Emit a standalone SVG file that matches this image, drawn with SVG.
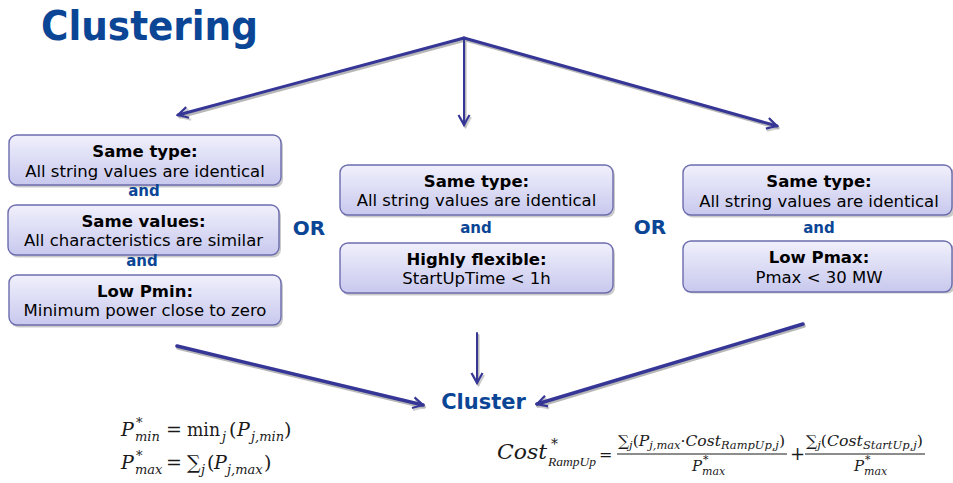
<svg xmlns="http://www.w3.org/2000/svg" width="953" height="483" viewBox="0 0 953 483">
<defs>
<linearGradient id="boxg" x1="0" y1="0" x2="0" y2="1">
<stop offset="0" stop-color="#f0f0fc"/>
<stop offset="1" stop-color="#c8c8ee"/>
</linearGradient>
<marker id="ah" markerWidth="14" markerHeight="14" refX="12" refY="7" orient="auto" markerUnits="userSpaceOnUse" overflow="visible">
<path d="M2,1.5 L12,7 L2,12.5" fill="none" stroke="#363696" stroke-width="2.2" stroke-linejoin="miter"/>
</marker>
<marker id="ahs" markerWidth="14" markerHeight="14" refX="12" refY="7" orient="auto" markerUnits="userSpaceOnUse" overflow="visible">
<path d="M2,1.5 L12,7 L2,12.5" fill="none" stroke="#9a9a9a" stroke-width="2.2" opacity="0.7"/>
</marker>
</defs>
<style>
.box{fill:url(#boxg);stroke:#6c6cae;stroke-width:1.4}
.shd{fill:#8a8a8a;opacity:0.45}
.t{font-family:"DejaVu Sans","Liberation Sans",sans-serif;font-size:16.5px;fill:#000;text-anchor:middle}
.b{font-weight:bold}
.blue{font-family:"DejaVu Sans","Liberation Sans",sans-serif;font-weight:bold;fill:#0b4595;text-anchor:middle}
.ln{stroke:#363696;fill:none;stroke-linecap:round}
.ls{stroke:#9a9a9a;fill:none;opacity:0.7;stroke-linecap:round}
.m{font-family:"DejaVu Serif","Liberation Serif",serif;font-style:italic;fill:#1a1a1a}
.u{font-family:"DejaVu Serif","Liberation Serif",serif;font-style:normal;fill:#1a1a1a}
</style>
<rect width="953" height="483" fill="#ffffff"/>
<text id="title" x="41" y="40" font-family="DejaVu Sans, Liberation Sans, sans-serif" font-weight="bold" font-size="40" fill="#0b4595" textLength="217" lengthAdjust="spacingAndGlyphs">Clustering</text>

<g id="connectors">
<g class="ls">
<line x1="465.5" y1="40" x2="180" y2="117" stroke-width="3" marker-end="url(#ahs)"/>
<line x1="465.5" y1="40" x2="465.5" y2="127" stroke-width="2" marker-end="url(#ahs)"/>
<line x1="465.5" y1="40" x2="778" y2="128" stroke-width="3" marker-end="url(#ahs)"/>
<line x1="178" y1="348" x2="424" y2="407" stroke-width="3.5" marker-end="url(#ahs)"/>
<line x1="478.5" y1="335" x2="478.5" y2="385" stroke-width="2" marker-end="url(#ahs)"/>
<line x1="804" y1="326" x2="538" y2="406" stroke-width="3.5" marker-end="url(#ahs)"/>
</g>
<g class="ln">
<line x1="464" y1="38" x2="178" y2="115" stroke-width="3" marker-end="url(#ah)"/>
<line x1="464" y1="38" x2="464" y2="125" stroke-width="2" marker-end="url(#ah)"/>
<line x1="464" y1="38" x2="777" y2="126" stroke-width="3" marker-end="url(#ah)"/>
<line x1="177" y1="346" x2="423" y2="405" stroke-width="3.5" marker-end="url(#ah)"/>
<line x1="477" y1="333" x2="477" y2="383" stroke-width="2" marker-end="url(#ah)"/>
<line x1="803" y1="324" x2="537" y2="404" stroke-width="3.5" marker-end="url(#ah)"/>
</g>
</g>

<g id="left-same-type">
<rect class="shd" x="11" y="137.5" width="272" height="50" rx="8"/>
<rect class="box" x="9" y="135" width="272" height="50" rx="8"/>
<text class="t b" x="145" y="157">Same type:</text>
<text class="t" x="145" y="177">All string values are identical</text>
</g>
<text class="blue" x="144" y="196" font-size="15">and</text>
<g id="left-same-values">
<rect class="shd" x="10" y="207.5" width="271" height="50" rx="8"/>
<rect class="box" x="8" y="205" width="271" height="50" rx="8"/>
<text class="t b" x="143.5" y="227">Same values:</text>
<text class="t" x="143.5" y="246">All characteristics are similar</text>
</g>
<text class="blue" x="142" y="266" font-size="15">and</text>
<g id="left-low-pmin">
<rect class="shd" x="11" y="277.5" width="272" height="50" rx="8"/>
<rect class="box" x="9" y="275" width="272" height="50" rx="8"/>
<text class="t b" x="145" y="297">Low Pmin:</text>
<text class="t" x="145" y="316">Minimum power close to zero</text>
</g>

<text class="blue" x="309" y="235" font-size="20">OR</text>

<g id="mid-same-type">
<rect class="shd" x="342" y="167.5" width="273" height="50" rx="8"/>
<rect class="box" x="340" y="165" width="273" height="50" rx="8"/>
<text class="t b" x="476.5" y="187">Same type:</text>
<text class="t" x="476.5" y="206">All string values are identical</text>
</g>
<text class="blue" x="476" y="233" font-size="15">and</text>
<g id="mid-highly-flexible">
<rect class="shd" x="342" y="245.5" width="273" height="50" rx="8"/>
<rect class="box" x="340" y="243" width="273" height="50" rx="8"/>
<text class="t b" x="476.5" y="265">Highly flexible:</text>
<text class="t" x="476.5" y="284">StartUpTime &lt; 1h</text>
</g>

<text class="blue" x="650" y="234" font-size="20">OR</text>

<g id="right-same-type">
<rect class="shd" x="685" y="167.5" width="270" height="50" rx="8"/>
<rect class="box" x="683" y="165" width="269" height="50" rx="8"/>
<text class="t b" x="819" y="187">Same type:</text>
<text class="t" x="819" y="207">All string values are identical</text>
</g>
<text class="blue" x="819" y="233" font-size="15">and</text>
<g id="right-low-pmax">
<rect class="shd" x="685" y="243.5" width="270" height="50" rx="8"/>
<rect class="box" x="683" y="241" width="269" height="51" rx="8"/>
<text class="t b" x="819" y="263">Low Pmax:</text>
<text class="t" x="819" y="283">Pmax &lt; 30 MW</text>
</g>

<g id="cluster">
<text class="blue" x="483.5" y="409" font-size="21">Cluster</text>
</g>

<g id="formula-left">
<text class="m" x="121" y="436" font-size="19">P</text>
<text class="u" x="136" y="427" font-size="13">*</text>
<text class="m" x="135" y="441" font-size="13">min</text>
<text class="u" x="166" y="436" font-size="19">=</text>
<text class="u" x="187" y="436" font-size="19" textLength="33" lengthAdjust="spacingAndGlyphs">min</text>
<text class="m" x="222" y="441" font-size="13">j</text>
<text class="u" x="229" y="436" font-size="19">(</text>
<text class="m" x="237" y="436" font-size="19">P</text>
<text class="m" x="251" y="441" font-size="13">j,min</text>
<text class="u" x="284" y="436" font-size="19">)</text>

<text class="m" x="121" y="469" font-size="19">P</text>
<text class="u" x="136" y="460" font-size="13">*</text>
<text class="m" x="135" y="474" font-size="13">max</text>
<text class="u" x="166" y="469" font-size="19">=</text>
<text class="u" x="187" y="469" font-size="19">∑</text>
<text class="m" x="201" y="474" font-size="13">j</text>
<text class="u" x="207" y="469" font-size="19">(</text>
<text class="m" x="214" y="469" font-size="19">P</text>
<text class="m" x="227" y="474" font-size="13">j,max</text>
<text class="u" x="264" y="469" font-size="19">)</text>
</g>

<g id="formula-right">
<text class="m" x="497" y="459" font-size="21" textLength="50" lengthAdjust="spacingAndGlyphs">Cost</text>
<text class="u" x="551" y="449" font-size="14">*</text>
<text x="548" y="466" font-size="13.5" font-family="Liberation Serif, DejaVu Serif, serif" font-style="italic" fill="#1a1a1a">RampUp</text>
<text class="u" x="599" y="460" font-size="16">=</text>
<line x1="617" y1="454" x2="787" y2="454" stroke="#1a1a1a" stroke-width="1"/>
<text class="m" x="618" y="446" font-size="15" textLength="167" lengthAdjust="spacingAndGlyphs"><tspan class="u">∑</tspan><tspan font-size="11" dy="3">j</tspan><tspan class="u" dy="-3">(</tspan>P<tspan font-size="11" dy="3">j,max</tspan><tspan class="u" dy="-3">·</tspan>Cost<tspan font-size="11" dy="3">RampUp,j</tspan><tspan class="u" dy="-3">)</tspan></text>
<text class="m" x="692" y="471" font-size="15">P</text>
<text class="u" x="703" y="463" font-size="11">*</text>
<text class="m" x="702" y="475" font-size="11">max</text>
<text class="u" x="790" y="460" font-size="18">+</text>
<line x1="805" y1="454" x2="925" y2="454" stroke="#1a1a1a" stroke-width="1"/>
<text class="m" x="806" y="446" font-size="15" textLength="117" lengthAdjust="spacingAndGlyphs"><tspan class="u">∑</tspan><tspan font-size="11" dy="3">j</tspan><tspan class="u" dy="-3">(</tspan>Cost<tspan font-size="11" dy="3">StartUp,j</tspan><tspan class="u" dy="-3">)</tspan></text>
<text class="m" x="854" y="471" font-size="15">P</text>
<text class="u" x="865" y="463" font-size="11">*</text>
<text class="m" x="864" y="475" font-size="11">max</text>
</g>
</svg>
